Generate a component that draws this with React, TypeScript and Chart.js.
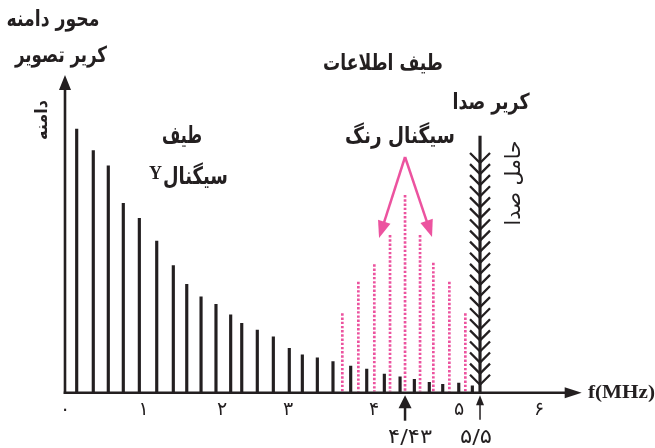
import React, { useEffect, useRef } from 'react';
import { Chart, registerables } from 'chart.js';

Chart.register(...registerables);

// Tick positions as drawn in the (schematic, not to scale) figure, and their labels
const tickValues = [0, 0.996, 1.987, 2.823, 3.911, 4.987, 6.0];
const tickLabels = ['۰', '۱', '۲', '۳', '۴', '۵', '۶'];

// Luminance (Y) spectrum lines
const lumaFreq = [0.148, 0.358, 0.548, 0.738, 0.941, 1.161, 1.371, 1.541, 1.722, 1.911, 2.097, 2.237, 2.434, 2.637, 2.839, 3.004, 3.194, 3.392, 3.616, 3.819, 4.042, 4.241, 4.422, 4.611, 4.781, 4.984, 5.156];
const lumaAmp = [83.0, 76.2, 71.4, 59.6, 54.9, 47.7, 40.0, 34.1, 30.2, 27.8, 24.5, 21.8, 19.7, 17.6, 14.0, 11.9, 11.0, 9.8, 8.4, 7.4, 5.9, 5.0, 4.2, 3.3, 2.6, 3.0, 2.2];

// Chrominance (colour) spectrum lines
const chromaFreq = [3.510, 3.713, 3.915, 4.114, 4.304, 4.494, 4.662, 4.865, 5.067];
const chromaAmp = [25.0, 34.9, 40.4, 49.6, 62.2, 49.6, 40.9, 34.9, 25.0];

// Sound carrier
const soundFreq = [5.253];
const soundAmp = [80.8];

// Markers below the axis
const markerFreq = [4.304, 5.253];
const markerLabels = ['۴/۴۳', '۵/۵'];

const BLACK = '#231f20';
const PINK = '#ec539f';
const FA = '"DejaVu Sans", sans-serif';
const SERIF = '"Liberation Serif", "Times New Roman", serif';

function arrowHead(ctx: CanvasRenderingContext2D, tx: number, ty: number, dx: number, dy: number, len: number, hw: number) {
  const n = Math.hypot(dx, dy);
  dx /= n; dy /= n;
  const bx = tx - dx * len, by = ty - dy * len;
  const px = -dy, py = dx;
  ctx.beginPath();
  ctx.moveTo(tx, ty);
  ctx.lineTo(bx + px * hw, by + py * hw);
  ctx.lineTo(bx - px * hw, by - py * hw);
  ctx.closePath();
  ctx.fill();
}

// draws text at a given font size, squeezed/stretched horizontally to a target width
function fitText(ctx: CanvasRenderingContext2D, text: string, cx: number, cy: number, width: number, size: number, family: string, weight: string, rot = 0, align: CanvasTextAlign = 'center') {
  ctx.font = `${weight} ${size}px ${family}`;
  const w = ctx.measureText(text).width;
  const sx = width / w;
  ctx.save();
  ctx.translate(cx, cy);
  ctx.rotate(rot);
  ctx.scale(sx, 1);
  ctx.textAlign = align;
  ctx.textBaseline = 'middle';
  ctx.fillStyle = BLACK;
  ctx.fillText(text, 0, 0);
  ctx.restore();
}

const decorPlugin = {
  id: 'decor',
  afterDatasetsDraw(chart: any) {
    const ctx: CanvasRenderingContext2D = chart.ctx;
    const xs = chart.scales.x;
    const ys = chart.scales.y;
    const x0 = xs.getPixelForValue(0);
    const y0 = ys.getPixelForValue(0);
    const xEnd = xs.getPixelForValue(xs.max);
    const yTop = ys.getPixelForValue(ys.max);
    ctx.save();
    ctx.fillStyle = BLACK;
    ctx.strokeStyle = BLACK;
    ctx.lineCap = 'butt';

    // x axis with arrow
    ctx.lineWidth = 2.6;
    ctx.beginPath();
    ctx.moveTo(x0 - 1.3, y0);
    ctx.lineTo(xEnd - 14, y0);
    ctx.stroke();
    arrowHead(ctx, xEnd, y0, 1, 0, 17, 5.5);

    // y axis with arrow
    ctx.beginPath();
    ctx.moveTo(x0, y0 + 1.3);
    ctx.lineTo(x0, yTop + 12);
    ctx.stroke();
    arrowHead(ctx, x0, yTop, 0, -1, 15, 6);

    // sound carrier chevrons
    const soundMeta = chart.getDatasetMeta(2);
    soundMeta.data.forEach((el: any) => {
      const sx = el.x;
      const top = el.y;
      ctx.lineWidth = 2.3;
      const first = top + 27;
      const last = y0 - 8;
      const n = 20;
      for (let i = 0; i <= n; i++) {
        const vy = first + ((last - first) * i) / n;
        ctx.beginPath();
        ctx.moveTo(sx - 10, vy - 10);
        ctx.lineTo(sx, vy);
        ctx.lineTo(sx + 10, vy - 10);
        ctx.stroke();
      }
    });

    // markers below axis
    markerFreq.forEach((f, i) => {
      const mx = xs.getPixelForValue(f);
      if (i === 0) {
        ctx.lineWidth = 2.5;
        ctx.beginPath();
        ctx.moveTo(mx, y0 + 28);
        ctx.lineTo(mx, y0 + 12);
        ctx.stroke();
        arrowHead(ctx, mx, y0 + 2.5, 0, -1, 13, 6.5);
        fitText(ctx, markerLabels[i], mx + 5, y0 + 45, 44, 20, FA, 'normal');
      } else {
        ctx.lineWidth = 1.5;
        ctx.beginPath();
        ctx.moveTo(mx, y0 + 27);
        ctx.lineTo(mx, y0 + 10);
        ctx.stroke();
        arrowHead(ctx, mx, y0 + 2.5, 0, -1, 10, 4);
        fitText(ctx, markerLabels[i], mx - 4, y0 + 45, 32, 20, FA, 'normal');
      }
    });

    // pink arrows from colour-signal label
    const cx = xs.getPixelForValue(chromaFreq[4]);
    ctx.strokeStyle = PINK;
    ctx.fillStyle = PINK;
    ctx.lineWidth = 2.5;
    const ax = cx, ay = 157;
    const tips = [[cx - 26, 238], [cx + 27, 237]];
    tips.forEach(([tx, ty]) => {
      const dx = tx - ax, dy = ty - ay;
      const n = Math.hypot(dx, dy);
      ctx.beginPath();
      ctx.moveTo(ax, ay);
      ctx.lineTo(tx - (dx / n) * 12, ty - (dy / n) * 12);
      ctx.stroke();
      arrowHead(ctx, tx, ty, dx, dy, 17, 6.5);
    });

    // texts
    fitText(ctx, 'محور دامنه', 53, 20, 93, 22, FA, 'bold');
    fitText(ctx, 'کریر تصویر', 61, 56, 92, 22, FA, 'bold');
    fitText(ctx, 'دامنه', 42.5, 120, 40, 17, FA, 'bold', -Math.PI / 2);
    fitText(ctx, 'طیف', 182, 137, 40, 24, FA, 'bold');
    fitText(ctx, 'سیگنال', 195.5, 178, 65, 24, FA, 'bold');
    ctx.font = `bold 18px ${SERIF}`;
    ctx.fillStyle = BLACK;
    ctx.textAlign = 'center';
    ctx.textBaseline = 'middle';
    ctx.fillText('Y', 155.5, 174);
    fitText(ctx, 'طیف اطلاعات', 383, 64, 120, 22, FA, 'bold');
    fitText(ctx, 'کریر صدا', 491, 103, 77, 22, FA, 'bold');
    fitText(ctx, 'سیگنال رنگ', 400, 137, 110, 23, FA, 'bold');
    fitText(ctx, 'حامل صدا', 515, 183, 85, 21, FA, 'normal', -Math.PI / 2);
    fitText(ctx, 'f(MHz)', 588, y0, 67, 19, SERIF, 'bold', 0, 'left');
    ctx.restore();
  },
};

export default function App() {
  const ref = useRef<HTMLCanvasElement>(null);
  useEffect(() => {
    if (!ref.current) return;
    const chromaPoints: any[] = [];
    chromaFreq.forEach((f, i) => {
      chromaPoints.push({ x: f, y: chromaAmp[i] });
      chromaPoints.push({ x: f, y: 0.4 });
      chromaPoints.push({ x: f, y: null });
    });
    const chart = new Chart(ref.current, {
      type: 'bar',
      data: {
        datasets: [
          {
            type: 'bar',
            label: 'Y',
            data: lumaFreq.map((f, i) => ({ x: f, y: lumaAmp[i] })),
            backgroundColor: BLACK,
            barThickness: 2.5,
            grouped: false,
          } as any,
          {
            type: 'line',
            label: 'chroma',
            data: chromaPoints,
            borderColor: PINK,
            borderWidth: 2.7,
            borderDash: [2.4, 1.8],
            borderCapStyle: 'butt',
            pointRadius: 0,
            spanGaps: false,
            tension: 0,
          } as any,
          {
            type: 'bar',
            label: 'sound',
            data: soundFreq.map((f, i) => ({ x: f, y: soundAmp[i] })),
            backgroundColor: BLACK,
            barThickness: 2.5,
            grouped: false,
          } as any,
        ],
      },
      options: {
        animation: false,
        responsive: false,
        devicePixelRatio: 1,
        layout: { padding: { left: 65, right: 73.3, top: 75, bottom: 0 } },
        plugins: { legend: { display: false }, tooltip: { enabled: false } },
        scales: {
          x: {
            type: 'linear',
            offset: false,
            min: 0,
            max: 6.54,
            grid: { display: false, drawTicks: false, offset: false },
            border: { display: false },
            afterBuildTicks: (scale: any) => {
              scale.ticks = tickValues.map((v) => ({ value: v }));
            },
            afterFit: (scale: any) => {
              scale.height = 55.3;
            },
            ticks: {
              autoSkip: false,
              maxRotation: 0,
              padding: 6,
              color: BLACK,
              font: { family: 'DejaVu Sans', size: 19 },
              callback: (_v: any, idx: number) => tickLabels[idx],
            },
          },
          y: {
            type: 'linear',
            display: false,
            min: 0,
            max: 100,
          },
        },
      } as any,
      plugins: [decorPlugin],
    });
    return () => chart.destroy();
  }, []);
  return (
    <div style={{ position: 'fixed', left: 0, top: 0, width: 655, height: 448, background: '#fff' }}>
      <canvas ref={ref} width={655} height={448} style={{ width: 655, height: 448, display: 'block' }} />
    </div>
  );
}
